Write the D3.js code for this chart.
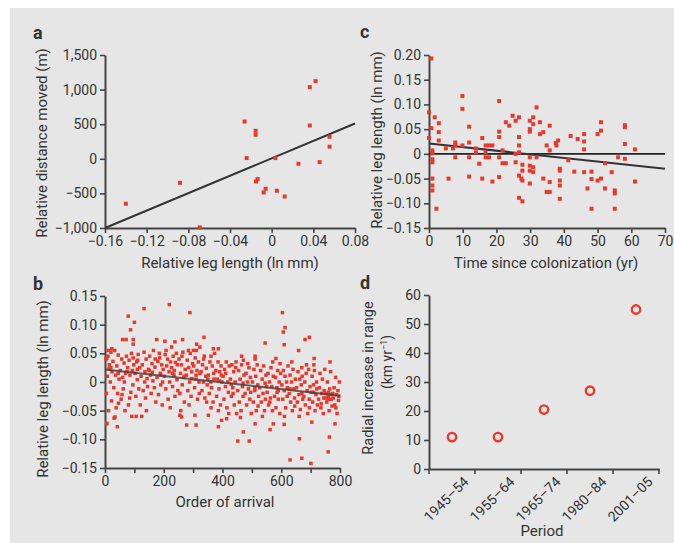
<!DOCTYPE html>
<html><head><meta charset="utf-8">
<script src="https://cdn.jsdelivr.net/npm/d3@7"></script>
<style>
body{margin:0;background:#fff;}
svg text{font-family:Roboto,"Liberation Sans",sans-serif;fill:#333;}
</style></head>
<body><svg id="c" width="674" height="543"></svg>
<script>
// ---------- DATA ----------
// Panel a: relative leg length (ln mm) vs relative distance moved (m)
const legA  = [-0.140,-0.088,-0.069,-0.026,-0.024,-0.0154,-0.0154,-0.015,-0.0135,-0.0058,-0.0077,0.0036,0.005,0.0125,0.0257,0.0366,0.0421,0.0366,0.046,0.0556,0.0556];
const distA = [-650,-347,-990,539,10,405,347,-328,-293,-433,-487,10,-462,-545,-72,1036,1123,481,-48,318,175];
const fitA  = [[-0.16,-1000],[0.08,510]];
const xTicksA = [-0.16,-0.12,-0.08,-0.04,0,0.04,0.08];
const yTicksA = [-1000,-500,0,500,1000,1500];

// Panel c: time since colonization (yr) vs relative leg length
const timeC = [0.7,0,0,0.7,1,1,1,1,1,1,1,1.7,2.2,2.9,2.9,2.9,5,5.8,7.1,7.8,7.8,7.8,9.9,9.9,9.9,11.9,11.9,11.9,11.9,13.9,13.9,14.9,15.8,15.8,16.8,16.8,16.8,17.8,17.8,18.8,18.8,20.8,20.8,20.8,20.8,20.8,21.8,21.8,22.8,22.8,23.8,24.8,25.7,25.7,25.7,26.7,26.7,26.7,26.7,26.7,26.7,27.4,27.7,27.7,27.7,27.7,29.9,29.9,29.9,29.9,29.9,29.9,29.9,30.9,30.9,30.9,30.9,31.9,31.9,32.9,32.9,33.9,33.9,34.9,34.9,35.8,35.8,35.8,35.8,37.6,37.8,38.3,38.8,38.8,38.8,38.8,38.8,41.3,42,43.1,44.1,46,46,46,46,47,48.2,48.2,48.2,50,50,51,51,51,52.2,52.2,54.2,55.1,55.1,55.1,56.1,58.1,58.1,58.1,58.1,61.1,61.1];
const legC  = [0.193,0.084,0.032,0.052,0.007,0.001,-0.011,-0.017,-0.050,-0.064,-0.074,0.074,-0.111,0.062,0.044,0.027,0.011,-0.050,0.011,0.023,0.017,-0.007,0.117,0.091,0.017,0.055,0.023,-0.007,-0.046,0.011,0.003,-0.020,0.032,-0.050,0.017,0.003,-0.007,0.017,-0.007,0.017,-0.056,0.107,0.045,0.034,-0.007,-0.047,0.007,-0.019,0.064,-0.019,0.057,0.077,0.067,0.000,-0.017,0.074,0.034,0.017,0.003,-0.044,-0.089,-0.050,-0.096,-0.022,-0.034,-0.054,0.050,0.045,0.067,-0.007,-0.024,-0.034,-0.060,0.074,0.060,-0.027,-0.037,0.094,-0.007,0.064,0.040,0.044,-0.050,0.017,-0.077,0.057,0.007,-0.057,-0.077,0.022,0.017,0.027,-0.030,-0.034,-0.054,-0.064,-0.091,-0.013,0.036,-0.036,0.030,0.040,0.025,0.009,-0.037,-0.070,-0.111,-0.036,-0.051,0.040,-0.054,0.064,0.047,-0.050,-0.019,-0.070,-0.037,-0.074,-0.080,-0.111,-0.007,0.058,0.054,0.020,-0.010,0.009,-0.056];
const fitC  = [[0,0.021],[70,-0.030]];
const xTicksC = [0,10,20,30,40,50,60,70];
const yTicksC = [-0.15,-0.10,-0.05,0,0.05,0.10,0.15,0.20];

// Panel b: order of arrival vs relative leg length  [order, value]
const arrivalB = [
[133,0.128],[219,0.135],[289,0.121],[604,0.121],[79,0.115],[100,0.104],[87,0.091],[613,0.095],[607,0.087],[696,0.078],[681,0.074],[610,0.065],[545,0.068],[337,0.078],[176,0.074],[264,0.074],[204,0.071],[238,0.070],[60,0.074],[72,0.074],[96,0.074],[96,0.066],[312,0.066],[323,0.061],[227,0.061],[301,0.055],[284,0.055],[369,0.058],[386,0.058],[361,0.045],[465,0.045],[511,0.045],[582,0.041],[659,0.055],[712,0.041],[766,0.035],[11,0.055],[23,0.058],[6,0.041],
[42,-0.078],[6,-0.073],[278,-0.075],[310,-0.075],[386,-0.078],[397,-0.067],[452,-0.103],[491,-0.103],[471,-0.087],[630,-0.136],[670,-0.133],[701,-0.142],[662,-0.099],[760,-0.122],[764,-0.096],[562,-0.083],[573,-0.073],[610,-0.074],[704,-0.070],[783,-0.073],[511,-0.073],[414,-0.064],[91,-0.060],[125,-0.060],[34,-0.061],[255,-0.058],[261,-0.061],[306,-0.058],[352,-0.058],
[3,0.04],[5,-0.02],[8,0.01],[10,0.045],[12,-0.05],[15,0.03],[18,0.0],[20,0.052],[22,-0.033],[24,0.018],[6,-0.072],[14,0.024],
[27,0.036],[30,-0.01],[33,0.055],[36,0.012],[38,-0.045],[40,0.028],[43,-0.02],[45,0.047],[48,0.005],[31,-0.063],[46,-0.037],
[52,0.02],[55,-0.03],[57,0.04],[60,0.008],[62,-0.012],[65,0.033],[68,-0.05],[70,0.015],[73,0.045],[58,-0.022],[66,0.0],
[77,0.025],[80,-0.04],[82,0.038],[85,0.012],[88,-0.018],[90,0.05],[93,0.02],[95,-0.005],[98,0.03],[84,-0.028],[96,0.042],
[102,0.015],[105,-0.025],[108,0.035],[110,0.004],[113,0.048],[115,-0.012],[118,0.025],[120,-0.04],[123,0.01],[111,0.038],[106,-0.06],
[127,0.03],[130,-0.015],[133,0.052],[136,0.018],[138,-0.028],[140,0.04],[143,0.006],[145,-0.008],[148,0.022],[141,-0.05],[135,0.0],
[152,0.045],[155,0.012],[157,-0.02],[160,0.032],[163,0.002],[165,0.055],[168,-0.01],[170,0.026],[173,-0.035],[161,0.017],[171,0.04],
[177,0.008],[180,0.036],[182,-0.022],[185,0.05],[188,0.015],[190,-0.005],[193,0.03],[195,-0.04],[198,0.022],[186,0.042],[196,0.0],
[202,0.01],[205,0.048],[207,-0.012],[210,0.028],[213,0.04],[215,-0.03],[218,0.018],[220,0.0],[223,0.035],[208,0.055],[222,-0.045],
[227,0.025],[230,-0.008],[232,0.045],[235,0.012],[238,-0.025],[240,0.034],[243,0.05],[245,0.004],[248,-0.015],[236,0.02],[246,0.03],
[252,0.04],[255,-0.02],[257,0.015],[260,0.03],[263,-0.005],[265,0.052],[268,0.008],[270,-0.035],[273,0.022],[262,0.045],[258,-0.05],
[277,0.012],[280,0.038],[282,-0.015],[285,0.025],[288,0.0],[290,0.05],[293,-0.025],[295,0.018],[298,0.032],[286,-0.04],[296,0.006],
[302,0.028],[305,-0.01],[307,0.042],[310,0.005],[313,0.02],[315,-0.03],[318,0.035],[320,0.0],[323,0.015],[311,0.055],[321,-0.02],
[327,0.018],[330,-0.015],[332,0.03],[335,0.0],[338,0.045],[340,-0.028],[343,0.01],[345,0.024],[348,-0.005],[336,0.04],[346,-0.035],
[352,0.012],[355,-0.02],[357,0.035],[360,0.0],[363,-0.01],[365,0.028],[368,-0.035],[370,0.015],[373,0.05],[361,-0.045],[371,0.005],
[377,0.02],[380,-0.025],[382,0.005],[385,0.035],[388,-0.012],[390,0.018],[393,-0.04],[395,0.028],[398,0.0],[386,-0.05],[396,0.012],
[402,0.01],[405,-0.03],[407,0.022],[410,-0.008],[413,0.035],[415,-0.045],[418,0.0],[420,-0.018],[423,0.028],[411,0.015],[421,-0.055],
[427,0.005],[430,-0.025],[432,0.03],[435,-0.01],[438,0.018],[440,-0.04],[443,0.0],[445,0.025],[448,-0.055],[436,-0.02],[446,0.035],
[452,-0.015],[455,0.02],[457,-0.035],[460,0.005],[463,-0.05],[465,0.03],[468,-0.008],[470,-0.025],[473,0.012],[461,-0.062],[471,0.038],
[477,-0.02],[480,0.015],[482,-0.04],[485,0.0],[488,-0.012],[490,0.025],[493,-0.03],[495,0.008],[498,-0.055],[486,0.032],[496,-0.018],
[502,0.0],[505,-0.035],[507,0.022],[510,-0.015],[513,0.01],[515,-0.05],[518,0.03],[520,-0.005],[523,-0.025],[511,0.04],[521,-0.042],
[527,-0.01],[530,0.02],[532,-0.035],[535,0.005],[538,-0.02],[540,0.028],[543,-0.05],[545,-0.002],[548,0.012],[536,-0.06],[546,-0.03],
[552,-0.018],[555,0.015],[557,-0.04],[560,0.0],[563,-0.028],[565,0.025],[568,-0.008],[570,-0.05],[573,0.01],[561,-0.035],[571,0.035],
[577,-0.025],[580,0.008],[582,-0.045],[585,-0.01],[588,0.02],[590,-0.03],[593,0.0],[595,-0.055],[598,0.015],[586,-0.018],[596,0.032],
[602,-0.005],[605,-0.03],[607,0.02],[610,-0.015],[613,0.01],[615,-0.045],[618,0.0],[620,-0.025],[623,0.028],[611,-0.06],[621,-0.01],
[627,-0.02],[630,0.012],[632,-0.035],[635,0.0],[638,-0.05],[640,0.022],[643,-0.012],[645,-0.028],[648,0.005],[636,0.035],[646,-0.042],
[652,-0.01],[655,-0.035],[657,0.018],[660,-0.022],[663,0.005],[665,-0.048],[668,-0.005],[670,0.025],[673,-0.03],[661,-0.06],[671,0.01],
[677,-0.025],[680,0.0],[682,-0.04],[685,0.015],[688,-0.015],[690,-0.055],[693,0.022],[695,-0.03],[698,-0.008],[686,0.03],[696,-0.045],
[702,-0.018],[705,0.01],[707,-0.035],[710,-0.005],[713,0.02],[715,-0.05],[718,-0.022],[720,0.0],[723,-0.04],[711,0.03],[721,-0.012],
[727,-0.03],[730,-0.01],[732,0.015],[735,-0.045],[738,-0.02],[740,0.005],[743,-0.055],[745,-0.028],[748,0.022],[736,-0.038],[746,-0.015],
[752,-0.02],[755,-0.035],[757,0.0],[760,-0.025],[763,-0.05],[765,-0.012],[768,0.018],[770,-0.03],[773,-0.042],[761,-0.018],[771,-0.022],
[777,-0.028],[780,-0.01],[782,-0.04],[785,0.008],[788,-0.022],[790,-0.055],[793,-0.015],[795,-0.032],[798,0.0],[786,-0.045],[796,-0.025],
[20,0.025],[45,0.015],[75,0.018],[110,0.022],[150,0.02],[190,0.012],[230,0.015],[270,0.01],[310,0.012],[350,0.005],[390,0.002],[430,-0.004],[470,-0.002],[510,-0.01],[550,-0.008],[590,-0.015],[630,-0.012],[670,-0.02],[710,-0.018],[750,-0.028],[775,-0.02],[760,-0.03]
];
const fitB  = [[0,0.022],[800,-0.024]];
const xTicksB = [0,100,200,300,400,500,600,700,800];
const yTicksB = [-0.15,-0.10,-0.05,0,0.05,0.10,0.15];

// Panel d: period vs radial increase in range (km/yr)
const periodD = ["1945–54","1955–64","1965–74","1980–84","2001–05"];
const rateD   = [11,11,20.5,27,55];
const yTicksD = [0,10,20,30,40,50,60];

// ---------- DRAW ----------
const RED = "#e8392e", INK = "#333", AX = "#444";
const svg = d3.select("#c");
svg.append("rect").attr("x",10).attr("y",8).attr("width",664).attr("height",535).attr("fill","#e6e6e6");

const fmt2 = d => d === 0 ? "0" : d3.format(".2f")(d);

function styleAxis(g){
  g.selectAll(".domain").attr("stroke",AX).attr("stroke-width",2);
  g.selectAll(".tick line").attr("stroke",AX).attr("stroke-width",1.6);
  g.selectAll(".tick text").attr("fill",INK).style("font-size","14px").style("font-family","Roboto,sans-serif");
}
function label(txt,x,y,rot,size){
  const t = svg.append("text").text(txt).attr("text-anchor","middle").style("font-size",(size||15)+"px");
  if(rot) t.attr("transform",`translate(${x},${y}) rotate(-90)`); else t.attr("x",x).attr("y",y);
  return t;
}
function letter(ch,x,y){ svg.append("text").text(ch).attr("x",x).attr("y",y).style("font-size","18px").style("font-weight","bold").attr("fill","#333"); }
const lineGen = (xs,ys) => d3.line().x(d=>xs(d[0])).y(d=>ys(d[1]));

// Panel a
{
  const x = d3.scaleLinear().domain([-0.16,0.08]).range([105,355]);
  const y = d3.scaleLinear().domain([-1000,1500]).range([228,55]);
  svg.append("g").attr("transform","translate(0,228)").call(d3.axisBottom(x).tickValues(xTicksA).tickFormat(fmt2).tickSize(5).tickSizeOuter(0).tickPadding(3)).call(styleAxis);
  svg.append("g").attr("transform","translate(105,0)").call(d3.axisLeft(y).tickValues(yTicksA).tickFormat(d3.format(",")).tickSize(5).tickSizeOuter(0).tickPadding(3)).call(styleAxis);
  svg.append("path").datum(fitA).attr("d",lineGen(x,y)).attr("stroke","#333").attr("stroke-width",2).attr("fill","none");
  svg.append("g").selectAll("rect").data(legA).join("rect")
    .attr("x",(d,i)=>x(d)-2).attr("y",(d,i)=>y(distA[i])-2).attr("width",4).attr("height",4).attr("fill",RED);
  label("Relative leg length (ln mm)",230,268);
  label("Relative distance moved (m)",47,143,true);
  letter("a",33,39);
}
// Panel c
{
  const x = d3.scaleLinear().domain([0,70]).range([429,665]);
  const y = d3.scaleLinear().domain([-0.15,0.20]).range([228,55]);
  svg.append("g").attr("transform","translate(0,228)").call(d3.axisBottom(x).tickValues(xTicksC).tickSize(5).tickSizeOuter(0).tickPadding(3)).call(styleAxis);
  svg.append("g").attr("transform","translate(429,0)").call(d3.axisLeft(y).tickValues(yTicksC).tickFormat(fmt2).tickSize(5).tickSizeOuter(0).tickPadding(3)).call(styleAxis);
  svg.append("line").attr("x1",x(0)).attr("x2",x(70)).attr("y1",y(0)).attr("y2",y(0)).attr("stroke","#222").attr("stroke-width",1.6);
  svg.append("path").datum(fitC).attr("d",lineGen(x,y)).attr("stroke","#333").attr("stroke-width",2).attr("fill","none");
  svg.append("g").selectAll("rect").data(timeC).join("rect")
    .attr("x",d=>x(d)-2).attr("y",(d,i)=>y(legC[i])-2).attr("width",4).attr("height",4).attr("fill",RED);
  label("Time since colonization (yr)",546,268);
  label("Relative leg length (ln mm)",382,140,true);
  letter("c",360,38);
}
// Panel b
{
  const x = d3.scaleLinear().domain([0,800]).range([105,340]);
  const y = d3.scaleLinear().domain([-0.15,0.15]).range([468,296]);
  svg.append("g").attr("transform","translate(0,468)").call(d3.axisBottom(x).tickValues(xTicksB).tickFormat(d=>d%200===0?d:"").tickSize(5).tickSizeOuter(0).tickPadding(3)).call(styleAxis);
  svg.append("g").attr("transform","translate(105,0)").call(d3.axisLeft(y).tickValues(yTicksB).tickFormat(fmt2).tickSize(5).tickSizeOuter(0).tickPadding(3)).call(styleAxis);
  svg.append("g").selectAll("rect").data(arrivalB).join("rect")
    .attr("x",d=>x(d[0])-1.75).attr("y",d=>y(d[1])-1.75).attr("width",3.5).attr("height",3.5).attr("fill",RED);
  svg.append("path").datum(fitB).attr("d",lineGen(x,y)).attr("stroke","#444").attr("stroke-width",2).attr("stroke-opacity",0.85).attr("fill","none");
  label("Order of arrival",225,507);
  label("Relative leg length (ln mm)",48,389,true);
  letter("b",33,290);
}
// Panel d
{
  const x = d3.scaleBand().domain(periodD).range([429,659]);
  const y = d3.scaleLinear().domain([0,60]).range([469,295]);
  const gx = svg.append("g").attr("transform","translate(0,469)").call(d3.axisBottom(x).tickSize(0).tickSizeOuter(0).tickPadding(8)).call(styleAxis);
  gx.selectAll(".tick text").attr("text-anchor","end").attr("transform","translate(5,1) rotate(-45)").style("font-size","14px");
  const bounds = periodD.map(p=>x(p)).concat([x.range()[1]]);
  svg.append("g").selectAll("line").data(bounds).join("line")
    .attr("x1",d=>d).attr("x2",d=>d).attr("y1",469).attr("y2",474).attr("stroke",AX).attr("stroke-width",1.6);
  svg.append("g").attr("transform","translate(429,0)").call(d3.axisLeft(y).tickValues(yTicksD).tickSize(5).tickSizeOuter(0).tickPadding(3)).call(styleAxis);
  svg.append("g").selectAll("circle").data(periodD).join("circle")
    .attr("cx",d=>x(d)+x.bandwidth()/2).attr("cy",(d,i)=>y(rateD[i])).attr("r",4.2)
    .attr("fill","none").attr("stroke",RED).attr("stroke-width",2.4);
  label("Period",542,536);
  label("Radial increase in range",373,378,true,14.5);
  const t2 = svg.append("text").attr("text-anchor","middle").attr("transform","translate(392,362) rotate(-90)").style("font-size","14px");
  t2.append("tspan").text("(km yr");
  t2.append("tspan").text("−1").attr("dy",-5).style("font-size","9px");
  t2.append("tspan").text(")").attr("dy",5);
  letter("d",360,289);
}
</script></body></html>
